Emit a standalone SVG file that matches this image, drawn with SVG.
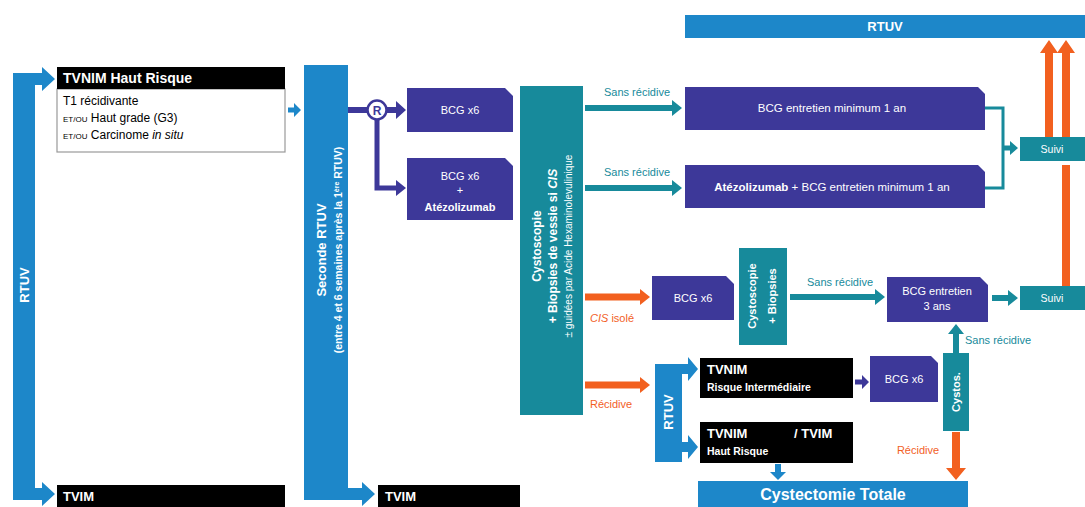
<svg xmlns="http://www.w3.org/2000/svg" width="1085" height="507" viewBox="0 0 1085 507">
<style>
text{font-family:"Liberation Sans",Arial,sans-serif}
.w{fill:#fff}
.b{font-weight:bold}
.blue{fill:#1d87c9}
.pur{fill:#3d3899}
.teal{fill:#178a9b}
.blk{fill:#000}
.or{fill:#f2601f}
.tl{fill:#178a9b;font-size:11px}
.ol{fill:#f2601f;font-size:11px}
.c{text-anchor:middle}
</style>
<rect width="1085" height="507" fill="#fff"/>

<g id="connectors">
  <!-- purple from Seconde RTUV via R -->
  <rect class="pur" x="348" y="107" width="22" height="6"/>
  <path class="pur" d="M387,107 H396 V101 L406,110 L396,119 V113 H387 Z"/>
  <path class="pur" d="M374.5,118 H379.5 V185.5 H396 V180 L406,188 L396,196 V190.5 H374.5 Z"/>
  <!-- small blue arrow to Seconde RTUV -->
  <path class="blue" d="M288,107.5 H294 V103 L301,110 L294,117 V112.5 H288 Z"/>
  <!-- teal from Cystoscopie -->
  <path class="teal" d="M585,105 H672 V100 L682,108 L672,116 V111 H585 Z"/>
  <path class="teal" d="M585,185 H672 V180 L682,188 L672,196 V191 H585 Z"/>
  <text class="tl c" x="637" y="96">Sans récidive</text>
  <text class="tl c" x="637" y="176">Sans récidive</text>
  <!-- orange from Cystoscopie -->
  <path class="or" d="M585,293.5 H640 V289 L650,297 L640,305 V300.5 H585 Z"/>
  <path class="or" d="M585,381.5 H640 V377 L650,385 L640,393 V388.5 H585 Z"/>
  <text class="ol" x="590" y="322"><tspan font-style="italic">CIS</tspan> isolé</text>
  <text class="ol" x="590" y="408">Récidive</text>
  <!-- bracket to Suivi -->
  <path d="M985,108 H1003 V188 H985" fill="none" stroke="#178a9b" stroke-width="3"/>
  <path class="teal" d="M1003,145.5 H1010 V141 L1018,148 L1010,155 V150.5 H1003 Z"/>
  <!-- orange up to RTUV -->
  <path class="or" d="M1045,137 V53 H1040 L1049,40 L1058,53 H1053 V137 Z"/>
  <path class="or" d="M1062,137 V53 H1057 L1066,40 L1075,53 H1070 V137 Z"/>
  <rect class="or" x="1062" y="165" width="8" height="121"/>
  <!-- CIS line -->
  <path class="teal" d="M790,294 H875 V289 L885,297 L875,305 V300 H790 Z"/>
  <text class="tl c" x="840" y="286">Sans récidive</text>
  <path class="teal" d="M992,295 H1008 V290 L1018,298 L1008,306 V301 H992 Z"/>
  <path class="teal" d="M953,353 V334 H948 L956,324 L964,334 H959 V353 Z"/>
  <text class="tl" x="965" y="344">Sans récidive</text>
  <path class="or" d="M952,432 V468 H946 L956,480 L966,468 H960 V432 Z"/>
  <text class="ol c" x="918" y="454">Récidive</text>
  <!-- RTUV small arrows -->
  <path class="blue" d="M681,364 H688 V357 L698,369 L688,381 V374 H681 Z"/>
  <path class="blue" d="M681,442 H688 V435 L698,447 L688,459 V452 H681 Z"/>
  <path class="pur" d="M855,379.5 H862 V375 L869,382 L862,389 V384.5 H855 Z"/>
  <path class="blue" d="M775,464 V472 H770 L778,480 L786,472 H781 V464 Z"/>
</g>

<g id="rtuv-left">
  <path class="blue" d="M13,73 H42 V67 L55,79 L42,91 V85 H35 V488 H42 V482 L55,494 L42,506 V500 H13 Z"/>
  <text class="w b c" font-size="13" transform="translate(24,285) rotate(-90)" y="5">RTUV</text>
</g>

<g id="tvnim-haut-risque">
  <rect x="57" y="89" width="228" height="63" fill="#fff" stroke="#999" stroke-width="1.2"/>
  <rect class="blk" x="57" y="67" width="228" height="22"/>
  <text class="w b" font-size="14" x="63" y="83">TVNIM Haut Risque</text>
  <text font-size="12" x="63" y="105">T1 récidivante</text>
  <text font-size="12" x="63" y="122"><tspan font-size="8">ET/OU</tspan> Haut grade (G3)</text>
  <text font-size="12" x="63" y="139"><tspan font-size="8">ET/OU</tspan> Carcinome <tspan font-style="italic">in situ</tspan></text>
</g>

<g id="tvim-1">
  <rect class="blk" x="57" y="485" width="228" height="22"/>
  <text class="w b" font-size="13" x="63" y="501">TVIM</text>
</g>

<g id="seconde-rtuv">
  <path class="blue" d="M304,65 H348 V488 H362 V482 L375,494 L362,506 V500 H304 Z"/>
  <g transform="translate(326,250) rotate(-90)">
    <text class="w b c" font-size="13" y="0">Seconde RTUV</text>
    <text class="w b c" font-size="10.5" y="16">(entre 4 et 6 semaines après la 1<tspan font-size="7" baseline-shift="super">ère</tspan> RTUV)</text>
  </g>
</g>

<g id="tvim-2">
  <rect class="blk" x="378" y="485" width="142" height="22"/>
  <text class="w b" font-size="13" x="385" y="501">TVIM</text>
</g>

<g id="randomisation">
  <circle cx="377" cy="110" r="9.5" fill="#fff" stroke="#3d3899" stroke-width="2.5"/>
  <text class="pur b c" font-size="12" x="377" y="114.5">R</text>
</g>

<g id="bcg-x6-a">
  <path class="pur" d="M407,88 H505 L513,96 V132 H407 Z"/>
  <text class="w c" font-size="11" x="460" y="114">BCG x6</text>
</g>

<g id="bcg-x6-atezo">
  <path class="pur" d="M407,158 H505 L513,166 V220 H407 Z"/>
  <text class="w c" font-size="11" x="460" y="180">BCG x6</text>
  <text class="w c" font-size="11" x="460" y="194">+</text>
  <text class="w b c" font-size="11" x="460" y="211">Atézolizumab</text>
</g>

<g id="cystoscopie">
  <rect class="teal" x="520" y="86" width="63" height="329"/>
  <g transform="translate(551,246) rotate(-90)">
    <text class="w b c" font-size="12" y="-10">Cystoscopie</text>
    <text class="w b c" font-size="12" y="6">+ Biopsies de vessie si <tspan font-style="italic">CIS</tspan></text>
    <text class="w c" font-size="10" y="21">± guidées par Acide Hexaminolevulinique</text>
  </g>
</g>

<g id="rtuv-top">
  <rect class="blue" x="685" y="15" width="400" height="23"/>
  <text class="w b c" font-size="13" x="885" y="31">RTUV</text>
</g>

<g id="bcg-entretien-1an">
  <path class="pur" d="M685,87 H978 L985,94 V130 H685 Z"/>
  <text class="w c" font-size="11.5" x="832" y="112">BCG entretien minimum 1 an</text>
</g>

<g id="atezo-bcg-entretien">
  <path class="pur" d="M685,165 H978 L985,172 V208 H685 Z"/>
  <text class="w c" font-size="11.5" x="832" y="191"><tspan font-weight="bold">Atézolizumab</tspan> + BCG entretien minimum 1 an</text>
</g>

<g id="suivi-1">
  <rect class="teal" x="1020" y="137" width="65" height="24"/>
  <text class="w c" font-size="10.5" x="1052" y="153">Suivi</text>
</g>

<g id="bcg-x6-cis">
  <path class="pur" d="M652,276 H726 L734,284 V320 H652 Z"/>
  <text class="w c" font-size="11" x="693" y="302">BCG x6</text>
</g>

<g id="cystoscopie-biopsies">
  <rect class="teal" x="739" y="248" width="48" height="97"/>
  <g transform="translate(763,296) rotate(-90)">
    <text class="w b c" font-size="11" y="-7">Cystoscopie</text>
    <text class="w b c" font-size="11" y="13">+ Biopsies</text>
  </g>
</g>

<g id="bcg-entretien-3ans">
  <path class="pur" d="M887,277 H980 L988,285 V322 H887 Z"/>
  <text class="w c" font-size="11" x="937" y="295">BCG entretien</text>
  <text class="w c" font-size="11" x="937" y="310">3 ans</text>
</g>

<g id="suivi-2">
  <rect class="teal" x="1020" y="286" width="65" height="24"/>
  <text class="w c" font-size="10.5" x="1052" y="302">Suivi</text>
</g>

<g id="rtuv-small">
  <rect class="blue" x="655" y="364" width="27" height="98"/>
  <text class="w b c" font-size="13" transform="translate(668,412) rotate(-90)" y="5">RTUV</text>
</g>

<g id="tvnim-ri">
  <rect class="blk" x="700" y="358" width="153" height="40"/>
  <text class="w b" font-size="13" x="707" y="374">TVNIM</text>
  <text class="w b" font-size="10.5" x="707" y="391">Risque Intermédiaire</text>
</g>

<g id="tvnim-tvim-hr">
  <rect class="blk" x="700" y="422" width="153" height="41"/>
  <text class="w b" font-size="13" x="707" y="438">TVNIM</text>
  <text class="w b" font-size="13" x="794" y="438">/ TVIM</text>
  <text class="w b" font-size="10.5" x="707" y="455">Haut Risque</text>
</g>

<g id="bcg-x6-ri">
  <path class="pur" d="M870,356 H931 L938,363 V402 H870 Z"/>
  <text class="w c" font-size="11" x="904" y="383">BCG x6</text>
</g>

<g id="cystos">
  <rect class="teal" x="943" y="353" width="26" height="78"/>
  <text class="w b c" font-size="11" transform="translate(956,392) rotate(-90)" y="4">Cystos.</text>
</g>

<g id="cystectomie">
  <rect class="blue" x="698" y="481" width="270" height="26"/>
  <text class="w b c" font-size="16" x="833" y="500">Cystectomie Totale</text>
</g>
</svg>
